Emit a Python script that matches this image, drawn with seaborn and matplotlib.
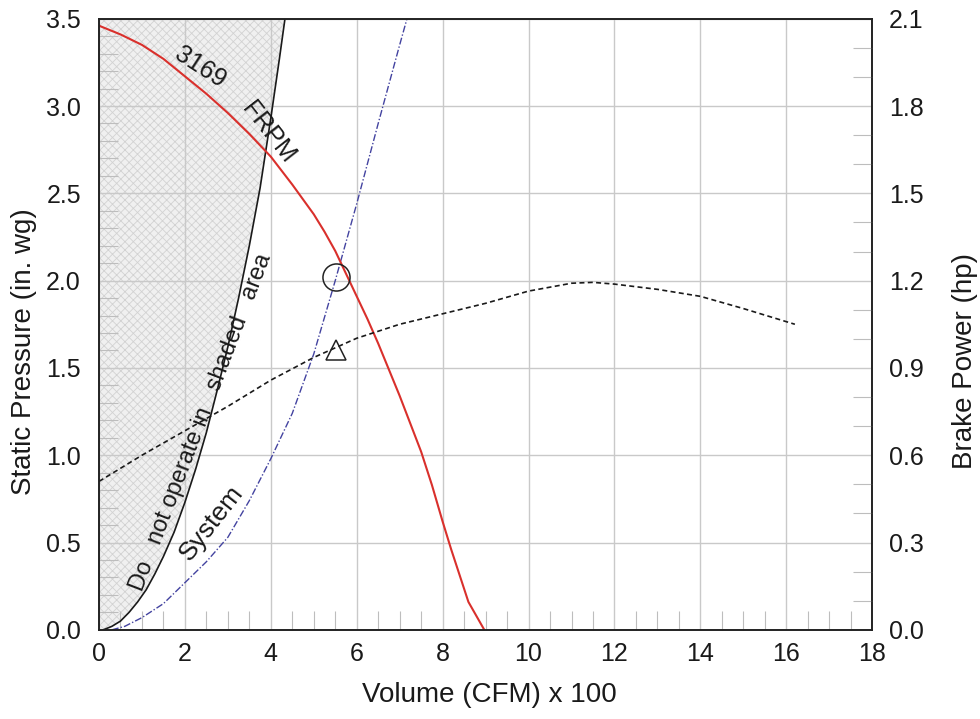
import numpy as np
import pandas as pd
import matplotlib
matplotlib.use("Agg")
import matplotlib.pyplot as plt
import seaborn as sns
from matplotlib.ticker import MultipleLocator, FormatStrFormatter

# ---------------- data ----------------
fan_x = [0, 0.5, 1, 1.5, 2, 2.5, 3, 3.5, 4, 4.5, 5, 5.25, 5.5, 5.75, 6, 6.25, 6.5, 6.75,
         7, 7.25, 7.5, 7.75, 8, 8.2, 8.4, 8.6, 8.97]
fan_sp = [3.46, 3.41, 3.35, 3.27, 3.17, 3.07, 2.96, 2.84, 2.71, 2.55, 2.38, 2.28, 2.17, 2.04,
          1.91, 1.78, 1.64, 1.49, 1.34, 1.18, 1.02, 0.83, 0.62, 0.46, 0.31, 0.16, 0.0]

limit_x = [0.1, 0.3, 0.5, 0.7, 0.9, 1.1, 1.3, 1.5, 1.75, 2.0, 2.25, 2.5, 2.75, 3.0, 3.25,
           3.5, 3.75, 4.0, 4.2, 4.33]
limit_sp = [0.0, 0.02, 0.05, 0.1, 0.16, 0.23, 0.32, 0.42, 0.56, 0.73, 0.92, 1.13, 1.37, 1.62,
            1.9, 2.2, 2.53, 2.93, 3.27, 3.5]

system_x = [0.3, 0.6, 1.0, 1.5, 2.0, 2.5, 3.0, 3.5, 4.0, 4.5, 5.0, 5.5, 6.0, 6.5, 7.0, 7.17]
system_sp = [0.0, 0.02, 0.07, 0.15, 0.27, 0.39, 0.53, 0.74, 0.98, 1.24, 1.58, 2.0, 2.44, 2.9,
             3.35, 3.5]

bhp_x = [0, 1, 2, 3, 4, 5, 6, 7, 8, 9, 10, 11, 11.5, 12, 13, 14, 15, 16.2]
bhp = [0.51, 0.60, 0.684, 0.768, 0.858, 0.936, 1.002, 1.05, 1.086, 1.122, 1.164, 1.191, 1.194,
       1.188, 1.17, 1.146, 1.104, 1.05]

op_point_x = [5.52]
op_point_sp = [2.02]
op_point_bhp = [0.96]

x_ticks = [0, 2, 4, 6, 8, 10, 12, 14, 16, 18]
sp_ticks = [0.0, 0.5, 1.0, 1.5, 2.0, 2.5, 3.0, 3.5]
bhp_ticks = [0.0, 0.3, 0.6, 0.9, 1.2, 1.5, 1.8, 2.1]

# ---------------- style ----------------
sns.set_style("white")
plt.rcParams["font.family"] = ["Liberation Sans", "DejaVu Sans"]
plt.rcParams["hatch.linewidth"] = 0.6

TXT = "#1a1a1a"
fig = plt.figure(figsize=(9.8, 7.19), dpi=100)
ax = fig.add_axes([0.101, 0.124, 0.789, 0.850])

# shaded "do not operate" region
ax.fill_betweenx(limit_sp, 0, limit_x, facecolor="#f0f0f0", edgecolor="#d2d2d2",
                 hatch="xxxx", linewidth=0, zorder=0.2)

fan_df = pd.DataFrame({"x": fan_x, "sp": fan_sp})
lim_df = pd.DataFrame({"x": limit_x, "sp": limit_sp})
sys_df = pd.DataFrame({"x": system_x, "sp": system_sp})
bhp_df = pd.DataFrame({"x": bhp_x, "bhp": bhp})

sns.lineplot(data=lim_df, x="x", y="sp", ax=ax, color="#1a1a1a", lw=1.2, sort=False, estimator=None)
sns.lineplot(data=sys_df, x="x", y="sp", ax=ax, color="#4343a0", lw=1.0, sort=False,
             estimator=None, linestyle=(0, (5, 1.5, 1, 1.5)))
sns.lineplot(data=fan_df, x="x", y="sp", ax=ax, color="#d9302c", lw=1.5, sort=False, estimator=None)
ax.plot(op_point_x, op_point_sp, marker="o", ms=19.5, mfc="none", mec="#222222", mew=1.1,
        ls="none", zorder=5)

ax.set_xlim(0, 18)
ax.set_ylim(0, 3.5)
ax.set_xticks(x_ticks)
ax.set_yticks(sp_ticks)
ax.yaxis.set_major_formatter(FormatStrFormatter("%.1f"))
ax.xaxis.set_minor_locator(MultipleLocator(0.5))
ax.yaxis.set_minor_locator(MultipleLocator(0.1))
ax.grid(True, which="major", color="#c9c9c9", lw=1.0, zorder=0.5)
ax.tick_params(which="major", length=0, labelsize=18, colors=TXT)
ax.tick_params(axis="y", which="major", pad=13)
ax.tick_params(axis="x", which="major", pad=9)
ax.tick_params(which="minor", direction="in", length=14, width=0.8, color="#bdbdbd",
               bottom=True, left=True, top=False, right=False)
ax.set_xlabel("Volume (CFM) x 100", fontsize=20, color=TXT)
ax.set_ylabel("Static Pressure (in. wg)", fontsize=20, color=TXT)
ax.xaxis.set_label_coords(0.505, -0.085)
ax.yaxis.set_label_coords(-0.080, 0.455)

for s in ax.spines.values():
    s.set_visible(True)
    s.set_color("#222222")
    s.set_linewidth(1.2)

# secondary axis: brake power
ax2 = ax.twinx()
sns.lineplot(data=bhp_df, x="x", y="bhp", ax=ax2, color="#1a1a1a", lw=1.2, sort=False,
             estimator=None, linestyle=(0, (3, 2)))
ax2.plot(op_point_x, op_point_bhp, marker="^", ms=15, mfc="none", mec="#222222", mew=1.1, ls="none")
ax2.set_ylim(0, 2.1)
ax2.set_yticks(bhp_ticks)
ax2.yaxis.set_major_formatter(FormatStrFormatter("%.1f"))
ax2.yaxis.set_minor_locator(MultipleLocator(0.1))
ax2.tick_params(which="major", length=0, labelsize=18, pad=12, colors=TXT)
ax2.tick_params(which="minor", direction="in", length=14, width=0.8, color="#bdbdbd",
                right=True, left=False)
ax2.set_ylabel("Brake Power (hp)", fontsize=20, color=TXT)
ax2.yaxis.set_label_coords(1.1035, 0.44)
ax2.grid(False)
for s in ax2.spines.values():
    s.set_visible(True)
    s.set_color("#222222")
    s.set_linewidth(1.2)

# annotations
ax.text(2.35, 3.22, "3169", rotation=-33, fontsize=18, ha="center", va="center", color=TXT)
ax.text(3.94, 2.85, "FRPM", rotation=-52, fontsize=18, ha="center", va="center", color=TXT)
ax.text(2.38, 1.19, "Do   not operate in   shaded   area", rotation=69, fontsize=17,
        ha="center", va="center", color=TXT)
ax.text(2.61, 0.61, "System", rotation=52, fontsize=19, ha="center", va="center", color=TXT)

fig.savefig("out.png", dpi=100)
